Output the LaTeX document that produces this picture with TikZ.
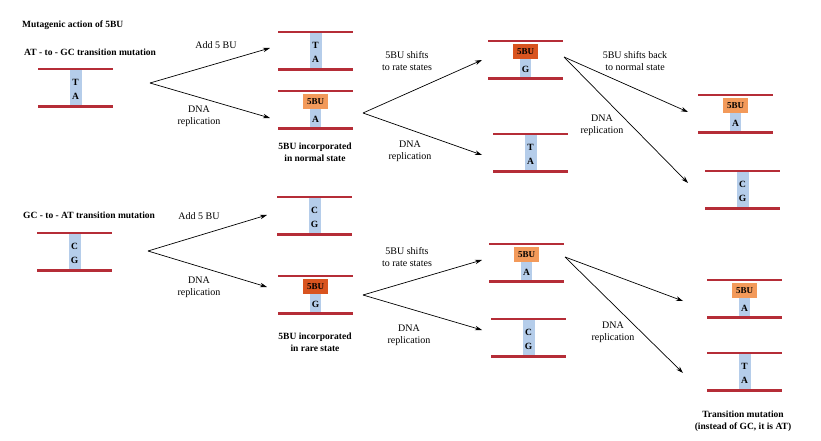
\documentclass[tikz,border=0pt]{standalone}
\usepackage{fontspec}
\setmainfont{Liberation Serif}
\usetikzlibrary{arrows.meta}

\definecolor{strandred}{RGB}{181,45,55}
\definecolor{baseblue}{RGB}{181,205,234}
\definecolor{bulight}{RGB}{243,154,90}
\definecolor{budark}{RGB}{217,84,31}

\tikzset{
  strand/.style={draw=strandred, line width=2.6pt},
  letter/.style={font=\fontsize{9.5}{9.5}\selectfont\bfseries, inner sep=0pt},
  bubox/.style={font=\fontsize{9}{9}\selectfont\bfseries, inner sep=0pt,
    minimum width=25pt, minimum height=15pt},
  lbl/.style={font=\fontsize{10}{12}\selectfont, align=center, inner sep=0pt},
  captxt/.style={font=\fontsize{9.5}{12}\selectfont\bfseries, align=center, inner sep=0pt},
  arr/.style={-{Stealth[length=7pt,width=4.5pt]}, line width=0.7pt},
}

% 塩基対 (name, left x, top y, upper base, lower base)
\newcommand{\pairdna}[5]{%
  \fill[baseblue] (#2+31.5,#3) rectangle (#2+43.5,#3+37.5);
  \draw[strand] (#2,#3) -- (#2+75,#3);
  \draw[strand] (#2,#3+37.5) -- (#2+75,#3+37.5);
  \node[letter] (#1u) at (#2+37.5,#3+13) {#4};
  \node[letter] (#1l) at (#2+37.5,#3+27) {#5};
}
% 5BU 対 (name, left x, top y, box colour, lower base)
\newcommand{\budna}[5]{%
  \fill[baseblue] (#2+32,#3+18) rectangle (#2+43,#3+37.5);
  \draw[strand] (#2,#3) -- (#2+75,#3);
  \draw[strand] (#2,#3+37.5) -- (#2+75,#3+37.5);
  \node[bubox, fill=#4] (#1u) at (#2+37.5,#3+10.5) {5BU};
  \node[letter] (#1l) at (#2+37.5,#3+28) {#5};
}

\begin{document}
\begin{tikzpicture}[x=1pt, y=-1pt]
\useasboundingbox (0,0) rectangle (821,441);

% 見出し
\node[captxt, anchor=west] (title) at (22,25) {Mutagenic action of 5BU};
\node[captxt, anchor=west] (atgc) at (24,52) {AT - to - GC transition mutation};
\node[captxt, anchor=west] (gcat) at (23,215) {GC - to - AT transition mutation};

% AT -> GC
\pairdna{d1}{38}{69}{T}{A}
\pairdna{d2}{278}{32}{T}{A}
\budna{d3}{278}{91}{bulight}{A}
\budna{d4}{488}{41}{budark}{G}
\pairdna{d5}{493}{134}{T}{A}
\budna{d6}{698}{95}{bulight}{A}
\pairdna{d7}{705}{171}{C}{G}

% GC -> AT
\pairdna{d8}{37}{233}{C}{G}
\pairdna{d9}{277}{197}{C}{G}
\budna{d10}{278}{276}{budark}{G}
\budna{d11}{489}{244}{bulight}{A}
\pairdna{d12}{491}{319}{C}{G}
\budna{d13}{707}{280}{bulight}{A}
\pairdna{d14}{707}{353}{T}{A}

% 矢印の分岐点と先端
\coordinate (fa) at (150,83);
\coordinate (fb) at (363,113);
\coordinate (fc) at (564,57);
\coordinate (fd) at (148,251);
\coordinate (fe) at (363,295);
\coordinate (ff) at (565,257);
\coordinate (ta1) at (270,48);  \coordinate (ta2) at (270,118);
\coordinate (tb1) at (482,60);  \coordinate (tb2) at (482,155);
\coordinate (tc1) at (688,112); \coordinate (tc2) at (688,183);
\coordinate (td1) at (267,215); \coordinate (td2) at (267,287);
\coordinate (te1) at (482,260); \coordinate (te2) at (482,330);
\coordinate (tf1) at (683,301); \coordinate (tf2) at (683,373);

\draw[arr] (fa) -- (ta1);
\draw[arr] (fa) -- (ta2);
\draw[arr] (fb) -- (tb1);
\draw[arr] (fb) -- (tb2);
\draw[arr] (fc) -- (tc1);
\draw[arr] (fc) -- (tc2);
\draw[arr] (fd) -- (td1);
\draw[arr] (fd) -- (td2);
\draw[arr] (fe) -- (te1);
\draw[arr] (fe) -- (te2);
\draw[arr] (ff) -- (tf1);
\draw[arr] (ff) -- (tf2);

% 矢印ラベル
\node[lbl] (adda) at (216,45) {Add 5 BU};
\node[lbl] (repa) at (199,116) {DNA\\replication};
\node[lbl] (shifta) at (407,61) {5BU shifts\\to rate states};
\node[lbl] (repb) at (410,151) {DNA\\replication};
\node[lbl] (backa) at (635,61) {5BU shifts back\\to normal state};
\node[lbl] (repc) at (602,125) {DNA\\replication};
\node[lbl] (addb) at (199,216) {Add 5 BU};
\node[lbl] (repd) at (199,287) {DNA\\replication};
\node[lbl] (shiftb) at (407,257) {5BU shifts\\to rate states};
\node[lbl] (repe) at (409,335) {DNA\\replication};
\node[lbl] (repf) at (613,332) {DNA\\replication};

% 説明
\node[captxt] (norm) at (315,152) {5BU incorporated\\in normal state};
\node[captxt] (rare) at (315,342) {5BU incorporated\\in rare state};
\node[captxt] (trans) at (743,421) {Transition mutation\\(instead of GC, it is AT)};

\end{tikzpicture}
\end{document}
